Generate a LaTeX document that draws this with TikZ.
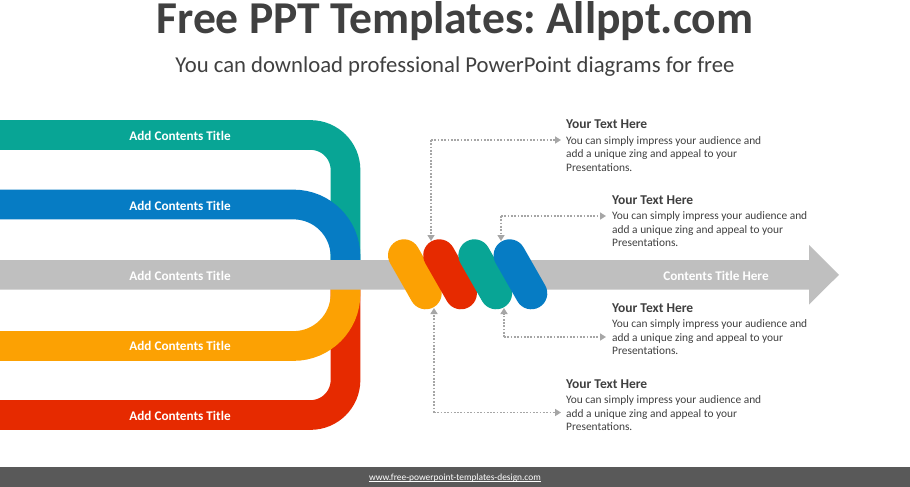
\documentclass[tikz,border=0pt]{standalone}
\usepackage{fontspec}
\setmainfont{Carlito}
\usetikzlibrary{arrows.meta,calc}
\definecolor{cteal}{HTML}{08A595}
\definecolor{cblue}{HTML}{067CC4}
\definecolor{corange}{HTML}{FCA103}
\definecolor{cred}{HTML}{E62A00}
\definecolor{cgray}{HTML}{BFBFBF}
\definecolor{cdark}{HTML}{404040}
\definecolor{cfoot}{HTML}{595959}
\definecolor{cconn}{HTML}{A6A6A6}
\tikzset{
  x=1pt,y=-1pt,
  band/.style={line width=29.7pt,line cap=butt},
  pill/.style={line width=32pt,line cap=round},
  bandlabel/.style={text=white,font=\fontsize{13.2}{16}\selectfont\bfseries,inner sep=0pt},
  conn/.style={draw=cconn,line width=1.7pt,dash pattern=on 1.7pt off 1.6pt},
  connhead/.style={conn,-{Triangle[length=6pt,width=7pt,fill=cconn,sep=0pt]}},
  info/.style={anchor=north west,inner sep=0pt,align=left,text=cdark,font=\fontsize{11.4}{13.5}\selectfont},
}
\newcommand{\infotext}[1]{{\fontsize{13.5}{15}\selectfont\bfseries Your Text Here}\\[2pt]You can simply impress your audience and\\add a unique zing and appeal to your\\Presentations.}
\begin{document}
\begin{tikzpicture}
\useasboundingbox (0,0) rectangle (910,487);
\fill[white] (0,0) rectangle (910,487);
% bands
\draw[band,cteal] (0,135) -- (310.5,135) arc[start angle=-90,end angle=0,radius=35] -- (345.5,265);
\draw[band,cblue] (0,204.5) -- (293.5,204.5) arc[start angle=-90,end angle=0,radius=52] -- (345.5,265);
\draw[band,cred] (0,415) -- (310.5,415) arc[start angle=90,end angle=0,radius=35] -- (345.5,285);
\draw[band,corange] (0,346) -- (293.5,346) arc[start angle=90,end angle=0,radius=52] -- (345.5,285);
% main arrow
\fill[cgray] (0,260) -- (809,260) -- (809,245) -- (839,274.8) -- (809,304.5) -- (809,289.5) -- (0,289.5) -- cycle;
% pills
\coordinate (p1a) at (404,255.3); \coordinate (p1b) at (425.7,293.3);
\coordinate (p2a) at (439.2,255.3); \coordinate (p2b) at (460.9,293.3);
\coordinate (p3a) at (474.4,255.3); \coordinate (p3b) at (496.1,293.3);
\coordinate (p4a) at (509.6,255.3); \coordinate (p4b) at (531.3,293.3);
\draw[pill,corange] (p1a) -- (p1b);
\draw[pill,cred] (p2a) -- (p2b);
\draw[pill,cteal] (p3a) -- (p3b);
\draw[pill,cblue] (p4a) -- (p4b);
% labels
\node[bandlabel] (l1) at (180,136) {Add Contents Title};
\node[bandlabel] (l2) at (180,206) {Add Contents Title};
\node[bandlabel] (l3) at (180,276) {Add Contents Title};
\node[bandlabel] (l4) at (180,346) {Add Contents Title};
\node[bandlabel] (l5) at (180,416) {Add Contents Title};
\node[bandlabel] (l6) at (716,276) {Contents Title Here};
% titles
\node[inner sep=0pt,text=cdark,font=\frenchspacing\fontsize{45.6}{50}\selectfont\bfseries,anchor=base] (title) at (455,34) {Free PPT Templates: Allppt.com};
\node[inner sep=0pt,text=cdark,font=\fontsize{22.7}{28}\selectfont] (sub) at (455,66.5) {You can download professional PowerPoint diagrams for free};
% text blocks
\node[info] (t1) at (566,120) {\infotext{}};
\node[info] (t2) at (612,195.5) {\infotext{}};
\node[info] (t3) at (612,303.5) {\infotext{}};
\node[info] (t4) at (566,379.5) {\infotext{}};
% connectors
\coordinate (e1) at (431,140); \coordinate (h1) at (431,241); \coordinate (a1) at (561,140);
\coordinate (e2) at (501,216); \coordinate (h2) at (501,241); \coordinate (a2) at (606,216);
\coordinate (e3) at (504,337); \coordinate (h3) at (504,308); \coordinate (a3) at (606,337);
\coordinate (e4) at (434,412.5); \coordinate (h4) at (434,308); \coordinate (a4) at (561,412.5);
\foreach \i in {1,2,3,4}{
  \draw[connhead] (e\i) -- (a\i);
  \draw[connhead] (e\i) -- (h\i);
}
% footer
\fill[cfoot] (0,467) rectangle (910,487);
\node[inner sep=0pt,text=white,font=\fontsize{9.4}{12}\selectfont,anchor=base] (foot) at (455,480.3) {www.free-powerpoint-templates-design.com};
\draw[white,line width=0.6pt] ($(foot.base west)+(0,1.4)$) -- ($(foot.base east)+(0,1.4)$);
\end{tikzpicture}
\end{document}
